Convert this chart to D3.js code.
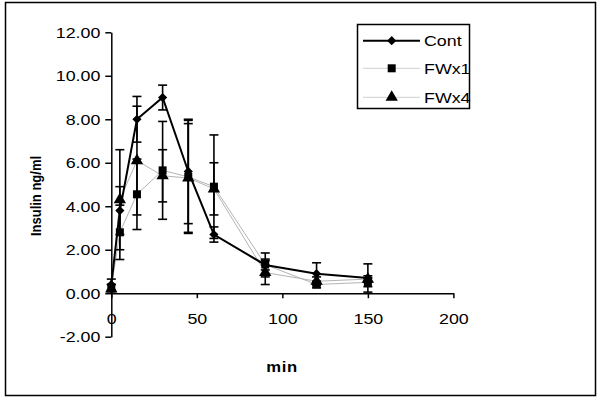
<!DOCTYPE html>
<html>
<head>
<meta charset="utf-8">
<script src="https://cdn.jsdelivr.net/npm/d3@7"></script>
<style>
  body { margin: 0; background: #fff; }
  svg { display: block; font-family: "Liberation Sans", Arial, sans-serif; }
</style>
</head>
<body>
<div id="chart"></div>
<script>
// data
const times = [0, 5, 15, 30, 45, 60, 90, 120, 150];
const cont = [0.4, 3.8, 8.0, 9.0, 5.6, 2.7, 1.3, 0.9, 0.7];
const contErr = [0.25, 1.1, 1.05, 0.57, 2.4, 0.35, 0.55, 0.5, 0.65];
const fwx1 = [0.25, 2.8, 4.55, 5.65, 5.35, 4.9, 1.32, 0.4, 0.5];
const fwx1Err = [0.15, 1.25, 1.62, 2.25, 2.6, 2.38, 0.25, 0.15, 0.2];
const fwx4 = [0.2, 4.3, 6.1, 5.4, 5.3, 4.8, 0.95, 0.55, 0.65];
const fwx4Err = [0.2, 2.3, 2.5, 1.2, 2.5, 1.2, 0.55, 0.2, 0.15];
const seriesNames = ["Cont", "FWx1", "FWx4"];
const xTicks = [0, 50, 100, 150, 200];
const yTicks = [-2, 0, 2, 4, 6, 8, 10, 12];

const width = 600, height = 398;
const sx = 1.15; // text in the picture is a bit wide

// Excel-style diamond (square turned 45 degrees)
const excelDiamond = {
    draw(ctx, size) {
        const r = Math.sqrt(size / 2);
        ctx.moveTo(0, -r);
        ctx.lineTo(r, 0);
        ctx.lineTo(0, r);
        ctx.lineTo(-r, 0);
        ctx.closePath();
    }
};

const svg = d3.select("#chart").append("svg")
    .attr("width", width)
    .attr("height", height);

// outer frame
svg.append("rect")
    .attr("x", 5.5).attr("y", 2.5)
    .attr("width", 590).attr("height", 393)
    .attr("fill", "#fff")
    .attr("stroke", "#000")
    .attr("stroke-width", 1.5);

// scales
const x = d3.scaleLinear().domain([0, 200]).range([111.3, 453.4]);
const y = d3.scaleLinear().domain([-2, 12]).range([336.7, 32.3]);

// y axis
const yAxis = svg.append("g")
    .attr("transform", "translate(" + x(0) + ",0)")
    .call(d3.axisLeft(y).tickValues(yTicks).tickSize(6).tickSizeOuter(0)
        .tickPadding(6).tickFormat(d => d.toFixed(2)));
yAxis.select(".domain").attr("stroke-width", 1.5);
yAxis.selectAll(".tick line").attr("stroke-width", 1.5);
yAxis.selectAll(".tick text")
    .attr("font-size", 15.5)
    .attr("font-family", "Liberation Sans, Arial, sans-serif")
    .attr("fill", "#000")
    .attr("transform", "translate(-11,0) scale(" + sx + ",1)")
    .attr("x", 0);

// x axis at y = 0
const xAxis = svg.append("g")
    .attr("transform", "translate(0," + y(0) + ")")
    .call(d3.axisBottom(x).tickValues(xTicks).tickSize(5).tickSizeOuter(0)
        .tickPadding(15).tickFormat(d3.format("d")));
xAxis.select(".domain").attr("stroke-width", 1.5);
xAxis.selectAll(".tick line").attr("stroke-width", 1.5);
xAxis.selectAll(".tick text")
    .attr("font-size", 15.5)
    .attr("font-family", "Liberation Sans, Arial, sans-serif")
    .attr("fill", "#000")
    .attr("transform", "translate(0,20) scale(" + sx + ",1)")
    .attr("y", 0);

// axis titles
svg.append("text")
    .attr("transform", "translate(282,372) scale(" + sx + ",1)")
    .attr("text-anchor", "middle")
    .attr("font-size", 14.5)
    .attr("font-weight", "bold")
    .attr("letter-spacing", 0.5)
    .text("min");

svg.append("text")
    .attr("transform", "translate(41,196) scale(" + sx + ",1) rotate(-90)")
    .attr("text-anchor", "middle")
    .attr("font-size", 13)
    .attr("font-weight", "bold")
    .text("Insulin ng/ml");

// series
const series = [
    { name: seriesNames[2], vals: fwx4, err: fwx4Err, color: "#b4b4b4", lw: 1, shape: d3.symbolTriangle, size: 66 },
    { name: seriesNames[1], vals: fwx1, err: fwx1Err, color: "#b4b4b4", lw: 1, shape: d3.symbolSquare, size: 64 },
    { name: seriesNames[0], vals: cont, err: contErr, color: "#000", lw: 2, shape: excelDiamond, size: 42 }
];

const line = d3.line()
    .x(d => x(d.t))
    .y(d => y(d.v));

series.forEach(s => {
    const pts = times.map((t, i) => ({ t: t, v: s.vals[i], e: s.err[i] }));
    s.pts = pts;
    svg.append("path")
        .datum(pts)
        .attr("d", line)
        .attr("fill", "none")
        .attr("stroke", s.color)
        .attr("stroke-width", s.lw);
});

// error bars
const capW = 4.5;
series.forEach(s => {
    const g = svg.append("g").attr("stroke", "#000").attr("stroke-width", 1.6);
    s.pts.forEach(d => {
        g.append("line")
            .attr("x1", x(d.t)).attr("x2", x(d.t))
            .attr("y1", y(d.v + d.e)).attr("y2", y(d.v - d.e));
        [d.v + d.e, d.v - d.e].forEach(v => {
            g.append("line")
                .attr("x1", x(d.t) - capW).attr("x2", x(d.t) + capW)
                .attr("y1", y(v)).attr("y2", y(v));
        });
    });
});

// markers
series.forEach(s => {
    svg.append("g").selectAll("path")
        .data(s.pts)
        .join("path")
        .attr("transform", d => "translate(" + x(d.t) + "," + y(d.v) + ")")
        .attr("d", d3.symbol().type(s.shape).size(s.size))
        .attr("fill", "#000");
});

// legend
const legend = svg.append("g");
legend.append("rect")
    .attr("x", 357.5).attr("y", 24.5)
    .attr("width", 112).attr("height", 84)
    .attr("fill", "#fff")
    .attr("stroke", "#000")
    .attr("stroke-width", 1.5);

const legendRows = [series[2], series[1], series[0]];
const legendY = [40.7, 68.3, 97.3];
legendRows.forEach((s, i) => {
    const ly = legendY[i];
    legend.append("line")
        .attr("x1", 363).attr("x2", 420)
        .attr("y1", ly).attr("y2", ly)
        .attr("stroke", s.lw > 1 ? "#000" : "#cfcfcf")
        .attr("stroke-width", s.lw);
    legend.append("path")
        .attr("transform", "translate(391.7," + ly + ")")
        .attr("d", d3.symbol().type(s.shape).size(s.size))
        .attr("fill", "#000");
    legend.append("text")
        .attr("transform", "translate(424," + (ly + 5.5) + ") scale(" + sx + ",1)")
        .attr("font-size", 15.5)
        .text(s.name);
});
</script>
</body>
</html>
